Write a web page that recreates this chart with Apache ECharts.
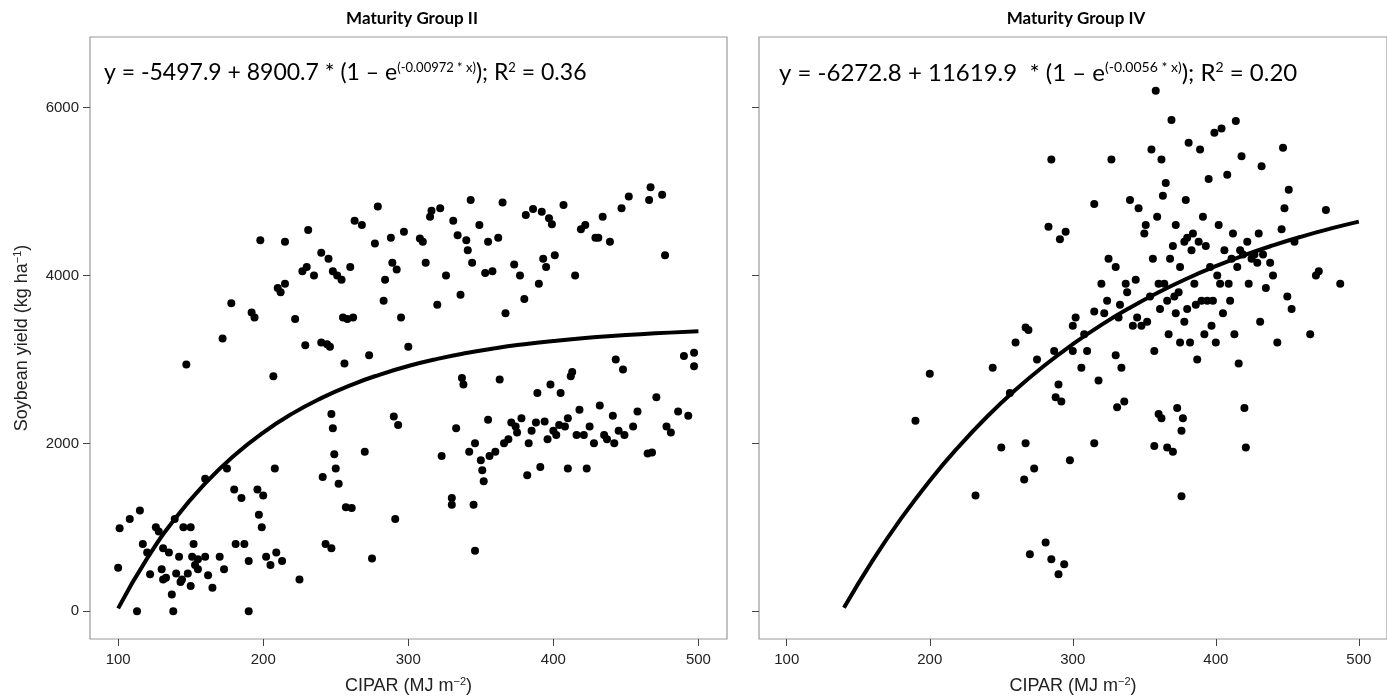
<!DOCTYPE html>
<html><head><meta charset="utf-8">
<script src="https://cdn.jsdelivr.net/npm/echarts@6/dist/echarts.min.js"></script>
<style>html,body{margin:0;padding:0;background:#fff}#c{width:1387px;height:700px}</style>
</head><body><div id="c"></div>
<script>
// ---- data ----
const panelTitles = ['Maturity Group II', 'Maturity Group IV'];
const xTicks = [100, 200, 300, 400, 500];
const yTicks = [0, 2000, 4000, 6000];

// Maturity Group II observations (CIPAR, yield)
const mg2X = [101,100,113,108,115,117,120,122,126,128,130,131,131,133,135,137,138,139,140,142,143,144,145,147,148,150,150,151,152,153,155,155,160,160,162,165,170,172,173,175,178,180,181,185,187,190,190,192,194,196,197,198,199,200,202,205,207,208,209,210,212,213,215,215,222,225,227,229,230,231,235,240,240,241,243,244,245,246,247,247,248,248,249,250,251,252,254,255,256,257,258,260,261,262,263,268,270,273,275,277,279,283,284,288,289,290,291,292,293,295,297,300,308,310,312,315,316,320,322,323,326,330,330,331,333,334,336,337,338,340,341,342,343,344,345,346,346,349,350,351,352,353,355,355,356,358,360,362,363,365,366,367,369,371,373,374,375,377,378,380,381,382,383,385,386,388,389,390,391,392,393,394,395,396,397,398,399,400,401,402,404,405,407,408,410,410,412,413,415,416,418,419,421,422,423,425,428,429,431,432,434,435,437,439,441,442,443,445,447,448,449,452,455,458,465,466,467,468,471,475,477,478,481,486,490,493,497,497];
const mg2Y = [990,520,0,1100,1200,800,700,440,1000,950,500,380,750,400,700,200,0,1100,450,650,350,380,1000,2940,450,300,1000,650,800,550,500,620,1580,650,430,280,650,3250,500,1700,3670,1450,800,1350,800,0,600,3560,3500,1450,1150,4420,1000,1380,650,550,2800,1700,700,3850,3800,600,3900,4400,3480,380,4050,3170,4100,4540,4000,4270,3200,1600,800,3180,4200,3150,2350,750,4050,2180,1870,1700,4000,1520,3950,3500,2950,1240,3480,4100,1230,3500,4650,4600,1900,3050,630,4380,4820,3700,3950,4450,4150,2320,1100,4070,2220,3500,4520,3150,4440,4400,4150,4700,4770,3650,4800,1850,4000,1350,1270,4650,2180,4480,3770,2780,2700,4420,4300,1900,4900,4150,1270,2000,720,4600,1800,1680,1550,4030,2280,4400,1850,4050,1900,4450,2760,4870,2000,3550,2050,2250,4130,2200,2130,4000,2300,3720,4720,1620,2000,2150,4790,2250,2600,3900,1720,4760,4200,2260,4100,2050,4680,2700,4610,2150,4240,2100,2220,2600,4840,2200,1700,2300,2800,2850,4000,2100,2400,4550,2100,4600,1700,2200,2000,4450,4450,2450,4700,2100,2050,4400,2330,2000,3000,2150,4800,2880,2100,4940,2200,2380,1880,4900,5050,1890,2550,4960,4240,2200,2130,2380,3040,2330,3080,2920];

// Maturity Group IV observations (CIPAR, yield)
const mg4X = [190,200,232,244,250,256,260,266,267,267,269,270,273,275,281,283,285,285,287,288,290,290,291,292,294,295,298,300,300,302,306,308,310,315,315,315,318,320,322,324,325,327,330,330,331,332,333,334,336,337,338,340,342,344,345,346,348,350,351,352,354,355,356,357,357,358,359,360,360,361,362,362,363,364,365,366,366,367,368,369,370,370,371,372,372,373,374,375,375,376,376,377,378,378,379,380,380,381,382,383,384,385,386,387,388,389,390,391,392,393,394,395,396,397,398,399,400,401,402,403,404,405,406,408,409,410,411,412,413,414,415,416,417,418,419,420,421,422,423,425,427,429,430,431,432,433,435,438,440,443,446,447,448,450,451,453,455,466,470,472,477,487];
const mg4Y = [2270,2830,1380,2900,1950,2600,3200,1570,2000,3380,3350,680,1700,3000,820,4580,5380,620,3100,2550,2700,440,4430,2500,560,4520,1800,3100,3400,3500,2900,3300,3100,2000,4850,3570,2750,3900,3550,3700,4200,5380,3050,4100,2430,3500,3650,2900,2500,3900,3800,4900,3400,3950,3500,4800,3400,4500,4600,3450,3750,5500,4200,3100,1970,6200,4700,2350,3900,3600,2300,5380,4950,3900,5100,1950,3700,3300,4200,5850,1900,4350,3750,3550,4600,2420,3800,3200,4100,2150,1370,2300,4400,3450,4900,4450,3600,5580,3200,4300,4500,3900,3650,3000,4400,5500,3700,4700,3300,4350,3700,5150,4100,3400,3700,5700,3200,4000,4600,3900,5750,3550,4300,5200,3900,3700,4200,4500,3300,5840,4100,2950,4300,5420,4250,2420,1950,4400,3900,4200,4250,4150,4500,3450,5300,4250,3850,4150,4000,3200,4550,5520,4800,3750,5020,3600,4400,3300,4000,4050,4780,3900];

// fitted curves, tabulated from the equations printed on each panel
const curveX2 = [100,120,140,160,180,200,220,240,260,280,300,320,340,360,380,400,420,440,460,480,500];
const curveY2 = [35,630,1120,1523,1856,2129,2354,2539,2692,2817,2921,3006,3076,3134,3181,3220,3253,3279,3301,3319,3334];
const curveX4 = [140,160,180,200,220,240,260,280,300,320,340,360,380,400,420,440,460,480,500];
const curveY4 = [42,604,1106,1556,1957,2317,2638,2925,3182,3411,3616,3800,3964,4110,4241,4358,4463,4557,4641];

const eqTexts = [
  ['y = -5497.9 + 8900.7 * (1 \u2013 e', '(-0.00972 * x)', '); R', '2', ' = 0.36'],
  ['y = -6272.8 + 11619.9  * (1 \u2013 e', '(-0.0056 * x)', '); R', '2', ' = 0.20']
];

// ---- chart ----
const zip = (a, b) => a.map((v, i) => [v, b[i]]);
const tickFont = '"Liberation Sans", Arial, sans-serif';
const eqFont = 'Lato, "Open Sans", sans-serif';
const grids = [
  { left: 90, top: 37, width: 637, height: 614 },
  { left: 759, top: 37, width: 637, height: 614 }
];
const supStyle = { fontSize: 11, fontFamily: tickFont, color: '#222', verticalAlign: 'bottom', padding: [0, 0, 9, 0] };
const xAxes = grids.map((g, i) => ({
  type: 'value', gridIndex: i, min: 80.6, max: 519.7,
  splitLine: { show: false },
  axisLine: { show: false, onZero: false },
  axisTick: { show: true, length: 7, customValues: xTicks, lineStyle: { color: '#444' } },
  axisLabel: { customValues: xTicks, color: '#222', fontSize: 15, fontFamily: tickFont, margin: 13 },
  name: '{t|CIPAR (MJ m}{s|\u22122}{t|)}', nameLocation: 'middle', nameGap: 37,
  nameTextStyle: { rich: {
    t: { fontSize: 18, fontFamily: tickFont, color: '#222' },
    s: supStyle
  } }
}));
const yAxes = grids.map((g, i) => ({
  type: 'value', gridIndex: i, min: -330, max: 6840,
  splitLine: { show: false },
  axisLine: { show: false, onZero: false },
  axisTick: { show: true, length: 7, customValues: yTicks, lineStyle: { color: '#444' } },
  axisLabel: { show: i === 0, customValues: yTicks, color: '#222', fontSize: 15, fontFamily: tickFont, margin: 11,
    formatter: v => String(v) },
  name: i === 0 ? '{t|Soybean yield (kg ha}{s|\u22121}{t|)}' : '',
  nameLocation: 'middle', nameGap: 58, nameRotate: 90,
  nameTextStyle: { rich: {
    t: { fontSize: 18, fontFamily: tickFont, color: '#222' },
    s: supStyle
  } }
}));

const dot = { color: '#000', opacity: 1 };
const series = [
  { type: 'scatter', xAxisIndex: 0, yAxisIndex: 0, data: zip(mg2X, mg2Y), symbolSize: 8, itemStyle: dot, z: 3 },
  { type: 'line', xAxisIndex: 0, yAxisIndex: 0, data: zip(curveX2, curveY2), smooth: true, showSymbol: false, lineStyle: { color: '#000', width: 4 }, z: 4 },
  { type: 'scatter', xAxisIndex: 1, yAxisIndex: 1, data: zip(mg4X, mg4Y), symbolSize: 8, itemStyle: dot, z: 3 },
  { type: 'line', xAxisIndex: 1, yAxisIndex: 1, data: zip(curveX4, curveY4), smooth: true, showSymbol: false, lineStyle: { color: '#000', width: 4 }, z: 4 }
];

const makeRich = fs => ({
  a: { fontSize: fs, fontFamily: eqFont, color: '#000' },
  s: { fontSize: Math.round(fs * 0.57), fontFamily: eqFont, color: '#000', verticalAlign: 'bottom', padding: [0, 0, Math.round(fs * 0.48), 0] }
});
const eqString = p => '{a|' + p[0] + '}{s|' + p[1] + '}{a|' + p[2] + '}{s|' + p[3] + '}{a|' + p[4] + '}';
const titleStyle = { fontSize: 17, fontWeight: 'bold', fontFamily: eqFont, color: '#000' };

const option = {
  animation: false,
  backgroundColor: '#fff',
  title: [
    { text: panelTitles[0], left: 407, top: 5, textAlign: 'center', textStyle: titleStyle },
    { text: panelTitles[1], left: 1071, top: 5, textAlign: 'center', textStyle: titleStyle }
  ],
  grid: grids.map(g => Object.assign({ show: true, borderColor: '#9a9a9a', borderWidth: 1.2, backgroundColor: 'transparent', containLabel: false }, g)),
  xAxis: xAxes,
  yAxis: yAxes,
  series: series,
  graphic: [
    { type: 'text', left: 104, top: 61, z: 10, style: { text: eqString(eqTexts[0]), rich: makeRich(23) } },
    { type: 'text', left: 779, top: 60, z: 10, style: { text: eqString(eqTexts[1]), rich: makeRich(24) } }
  ]
};
const chart = echarts.init(document.getElementById('c'), null, { renderer: 'canvas' });
chart.setOption(option);
</script></body></html>
